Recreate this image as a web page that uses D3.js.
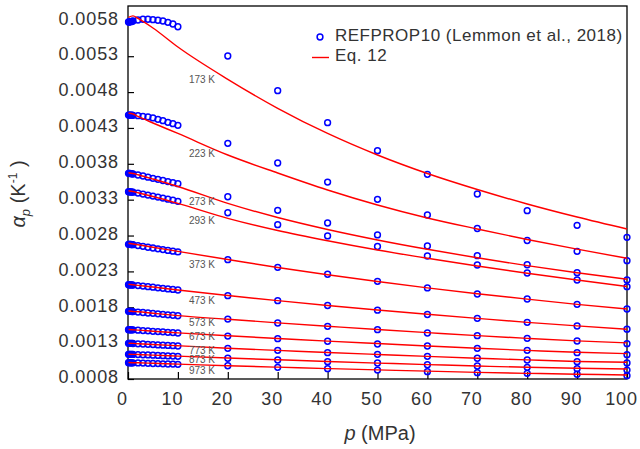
<!DOCTYPE html>
<html>
<head>
<meta charset="utf-8">
<script src="https://cdn.jsdelivr.net/npm/d3@7"></script>
<style>
  body { margin: 0; background: #fff; }
  text { font-family: "Liberation Sans", Arial, sans-serif; }
</style>
</head>
<body>
<div class="chart"></div>
<script>
// pressures (MPa) of the REFPROP points
const pressure = [0.1, 0.2, 0.4, 0.6, 0.8, 1, 2, 3, 4, 5, 6, 7, 8, 9, 10, 20, 30, 40, 50, 60, 70, 80, 90, 100];

const rp173 = [0.005777, 0.005777, 0.005780, 0.005782, 0.005787, 0.005791, 0.005805, 0.005815, 0.005815, 0.005809, 0.005801, 0.005791, 0.005773, 0.005749, 0.005711, 0.005303, 0.004819, 0.004373, 0.003983, 0.003654, 0.003379, 0.003146, 0.002943, 0.002775];
const rp223 = [0.004480, 0.004480, 0.004479, 0.004478, 0.004477, 0.004476, 0.004471, 0.004462, 0.004453, 0.004439, 0.004420, 0.004401, 0.004379, 0.004359, 0.004337, 0.004086, 0.003811, 0.003546, 0.003305, 0.003086, 0.002898, 0.002731, 0.002580, 0.002449];
const rp273 = [0.003668, 0.003667, 0.003665, 0.003664, 0.003661, 0.003658, 0.003644, 0.003630, 0.003613, 0.003598, 0.003583, 0.003567, 0.003552, 0.003537, 0.003523, 0.003341, 0.003152, 0.002975, 0.002808, 0.002654, 0.002519, 0.002393, 0.002282, 0.002180];
const rp293 = [0.003411, 0.003410, 0.003409, 0.003408, 0.003406, 0.003404, 0.003392, 0.003378, 0.003364, 0.003350, 0.003336, 0.003322, 0.003307, 0.003293, 0.003277, 0.003118, 0.002951, 0.002794, 0.002647, 0.002515, 0.002389, 0.002278, 0.002180, 0.002087];
const rp373 = [0.002678, 0.002677, 0.002676, 0.002675, 0.002674, 0.002672, 0.002660, 0.002649, 0.002637, 0.002626, 0.002615, 0.002604, 0.002593, 0.002582, 0.002571, 0.002463, 0.002357, 0.002260, 0.002162, 0.002069, 0.001985, 0.001915, 0.001841, 0.001776];
const rp473 = [0.002115, 0.002114, 0.002113, 0.002112, 0.002111, 0.002110, 0.002102, 0.002095, 0.002087, 0.002080, 0.002071, 0.002064, 0.002056, 0.002049, 0.002041, 0.001961, 0.001892, 0.001825, 0.001759, 0.001699, 0.001646, 0.001590, 0.001539, 0.001494];
const rp573 = [0.001744, 0.001744, 0.001743, 0.001742, 0.001741, 0.001740, 0.001733, 0.001727, 0.001720, 0.001715, 0.001708, 0.001702, 0.001695, 0.001689, 0.001682, 0.001636, 0.001581, 0.001535, 0.001487, 0.001441, 0.001404, 0.001367, 0.001330, 0.001292];
const rp673 = [0.001487, 0.001487, 0.001486, 0.001486, 0.001485, 0.001485, 0.001480, 0.001475, 0.001471, 0.001465, 0.001461, 0.001457, 0.001451, 0.001447, 0.001441, 0.001399, 0.001362, 0.001326, 0.001288, 0.001260, 0.001228, 0.001200, 0.001167, 0.001139];
const rp773 = [0.001298, 0.001298, 0.001298, 0.001298, 0.001297, 0.001295, 0.001291, 0.001288, 0.001284, 0.001280, 0.001275, 0.001271, 0.001268, 0.001264, 0.001260, 0.001228, 0.001200, 0.001167, 0.001144, 0.001116, 0.001089, 0.001065, 0.001041, 0.001023];
const rp873 = [0.001144, 0.001144, 0.001144, 0.001144, 0.001143, 0.001143, 0.001140, 0.001137, 0.001135, 0.001132, 0.001129, 0.001125, 0.001122, 0.001119, 0.001116, 0.001089, 0.001065, 0.001041, 0.001023, 0.000999, 0.000981, 0.000963, 0.000944, 0.000925];
const rp973 = [0.001027, 0.001027, 0.001027, 0.001026, 0.001026, 0.001026, 0.001024, 0.001022, 0.001019, 0.001016, 0.001015, 0.001012, 0.001009, 0.001008, 0.001005, 0.000985, 0.000963, 0.000944, 0.000925, 0.000902, 0.000888, 0.000879, 0.000866, 0.000846];

// Eq. 12 curves
const eqPressure = [0.1, 1, 2, 5, 10, 20, 30, 40, 50, 60, 70, 80, 90, 100];
const eq173 = [0.005842, 0.005863, 0.005826, 0.005693, 0.005428, 0.004978, 0.004574, 0.004223, 0.003923, 0.003665, 0.003442, 0.003240, 0.003058, 0.002891];
const eq223 = [0.004504, 0.004494, 0.004460, 0.004369, 0.004223, 0.003923, 0.003672, 0.003435, 0.003226, 0.003045, 0.002891, 0.002745, 0.002610, 0.002483];
const eq273 = [0.003676, 0.003665, 0.003647, 0.003588, 0.003484, 0.003249, 0.003051, 0.002884, 0.002738, 0.002608, 0.002490, 0.002380, 0.002281, 0.002190];
const eq293 = [0.003425, 0.003414, 0.003397, 0.003344, 0.003249, 0.003040, 0.002870, 0.002727, 0.002598, 0.002483, 0.002375, 0.002274, 0.002180, 0.002090];
const eq373 = [0.002692, 0.002682, 0.002671, 0.002636, 0.002579, 0.002466, 0.002354, 0.002253, 0.002159, 0.002071, 0.001989, 0.001913, 0.001841, 0.001776];
const eq473 = [0.002120, 0.002113, 0.002105, 0.002083, 0.002041, 0.001964, 0.001892, 0.001825, 0.001762, 0.001702, 0.001645, 0.001590, 0.001540, 0.001494];
const eq573 = [0.001748, 0.001742, 0.001737, 0.001717, 0.001684, 0.001632, 0.001583, 0.001536, 0.001490, 0.001447, 0.001405, 0.001366, 0.001331, 0.001303];
const eq673 = [0.001490, 0.001486, 0.001482, 0.001466, 0.001443, 0.001402, 0.001365, 0.001328, 0.001294, 0.001260, 0.001228, 0.001199, 0.001172, 0.001154];
const eq773 = [0.001299, 0.001296, 0.001292, 0.001281, 0.001263, 0.001229, 0.001199, 0.001169, 0.001142, 0.001115, 0.001090, 0.001066, 0.001045, 0.001033];
const eq873 = [0.001146, 0.001144, 0.001142, 0.001133, 0.001119, 0.001093, 0.001068, 0.001044, 0.001022, 0.001001, 0.000981, 0.000963, 0.000949, 0.000939];
const eq973 = [0.001029, 0.001027, 0.001026, 0.001019, 0.001008, 0.000985, 0.000965, 0.000945, 0.000927, 0.000910, 0.000893, 0.000879, 0.000867, 0.000856];

const tempLabels = ["173 K", "223 K", "273 K", "293 K", "373 K", "473 K", "573 K", "673 K", "773 K", "873 K", "973 K"];
// where each temperature label sits (alpha value at p = 12.2 MPa)
const labelAlpha = [0.004982, 0.003937, 0.003281, 0.003007, 0.002403, 0.001901, 0.001581, 0.001386, 0.001204, 0.001068, 0.000919];

const xTicks = [0, 10, 20, 30, 40, 50, 60, 70, 80, 90, 100];
const yTicks = [0.0008, 0.0013, 0.0018, 0.0023, 0.0028, 0.0033, 0.0038, 0.0043, 0.0048, 0.0053, 0.0058];

const refprop = [rp173, rp223, rp273, rp293, rp373, rp473, rp573, rp673, rp773, rp873, rp973];
const eq = [eq173, eq223, eq273, eq293, eq373, eq473, eq573, eq673, eq773, eq873, eq973];

let dims = { width: 640, height: 449 };
let plot = { left: 128, right: 627, top: 6, bottom: 379 };

let svg = d3.select(".chart").append("svg")
  .attr("width", dims.width)
  .attr("height", dims.height);

let x = d3.scaleLinear().domain([0, 100]).range([plot.left, plot.right]);
let y = d3.scaleLinear().domain([0.0008, 0.0060]).range([plot.bottom, plot.top]);

// axes with inward ticks
let xAxis = svg.append("g")
  .attr("transform", `translate(0, ${plot.bottom})`)
  .call(d3.axisBottom(x).tickValues(xTicks).tickSize(-7).tickSizeOuter(0).tickPadding(13).tickFormat(d3.format("d")));
xAxis.selectAll("text").attr("x", -6);

let yAxis = svg.append("g")
  .attr("transform", `translate(${plot.left}, 0)`)
  .call(d3.axisLeft(y).tickValues(yTicks).tickSize(-6).tickSizeOuter(0).tickPadding(9).tickFormat(d3.format(".4f")));
yAxis.selectAll("text").attr("y", -2);

svg.selectAll(".tick text")
  .style("font-size", "18px")
  .style("letter-spacing", "0.9px")
  .attr("fill", "#333");
svg.selectAll(".tick line").attr("stroke", "#000").attr("stroke-width", 1.2);
svg.selectAll(".domain").remove();

svg.append("rect")
  .attr("x", plot.left)
  .attr("y", plot.top)
  .attr("width", plot.right - plot.left)
  .attr("height", plot.bottom - plot.top)
  .attr("fill", "none")
  .attr("stroke", "#000")
  .attr("stroke-width", 1.3);

// REFPROP circles
refprop.forEach(series => {
  svg.append("g").selectAll("circle")
    .data(series)
    .join("circle")
    .attr("cx", (d, i) => x(pressure[i]))
    .attr("cy", d => y(d))
    .attr("r", 2.9)
    .attr("fill", "none")
    .attr("stroke", "#0000ff")
    .attr("stroke-width", 1.5);
});

// Eq. 12 lines
let line = d3.line()
  .x((d, i) => x(eqPressure[i]))
  .y(d => y(d))
  .curve(d3.curveMonotoneX);

eq.forEach(series => {
  svg.append("path")
    .attr("d", line(series))
    .attr("fill", "none")
    .attr("stroke", "#ff0000")
    .attr("stroke-width", 1.4);
});

// temperature labels
svg.append("g").selectAll("text")
  .data(tempLabels)
  .join("text")
  .attr("x", x(12.2))
  .attr("y", (d, i) => y(labelAlpha[i]))
  .attr("dy", "0.35em")
  .style("font-size", "10px")
  .attr("fill", "#555")
  .text(d => d);

// legend
let legend = svg.append("g");
legend.append("circle")
  .attr("cx", 320).attr("cy", 37).attr("r", 2.9)
  .attr("fill", "none").attr("stroke", "#0000ff").attr("stroke-width", 1.5);
legend.append("text")
  .attr("x", 335).attr("y", 41)
  .style("font-size", "17px").style("letter-spacing", "0.5px")
  .attr("fill", "#333")
  .text("REFPROP10 (Lemmon et al., 2018)");
legend.append("line")
  .attr("x1", 312).attr("x2", 329).attr("y1", 57.5).attr("y2", 57.5)
  .attr("stroke", "#ff0000").attr("stroke-width", 1.4);
legend.append("text")
  .attr("x", 335).attr("y", 61)
  .style("font-size", "17px").style("letter-spacing", "0.5px")
  .attr("fill", "#333")
  .text("Eq. 12");

// axis titles
let xTitle = svg.append("text")
  .attr("x", 380).attr("y", 440)
  .attr("text-anchor", "middle")
  .style("font-size", "20px")
  .attr("fill", "#333");
xTitle.append("tspan").style("font-style", "italic").text("p");
xTitle.append("tspan").text(" (MPa)");

let yTitle = svg.append("text")
  .attr("transform", "translate(25, 194) rotate(-90)")
  .attr("text-anchor", "middle")
  .style("font-size", "20px")
  .attr("fill", "#333");
yTitle.append("tspan").style("font-style", "italic").text("α");
yTitle.append("tspan").style("font-style", "italic").style("font-size", "13px").attr("dy", 5).text("p");
yTitle.append("tspan").attr("dy", -5).text(" (K");
yTitle.append("tspan").style("font-size", "12px").attr("dy", -8).text("-1");
yTitle.append("tspan").attr("dy", 8).text(" )");
</script>
</body>
</html>
